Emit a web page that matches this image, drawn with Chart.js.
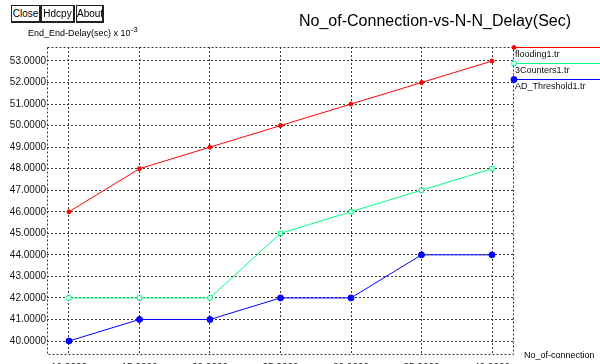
<!DOCTYPE html>
<html>
<head>
<meta charset="utf-8">
<script src="https://cdn.jsdelivr.net/npm/chart.js@4.4.0/dist/chart.umd.min.js"></script>
<style>
  body { margin: 0; background: #fff; }
  #wrap { position: relative; width: 600px; height: 364px; }
  .btn {
    position: absolute; top: 5px; height: 15px;
    border: 1px solid #222; border-right-width: 2px; border-bottom-width: 2px;
    font: 10px 'Liberation Sans', Arial, sans-serif; line-height: 15px;
    text-align: center; color: #000; background: #fff;
  }
</style>
</head>
<body>
<div id="wrap">
  <canvas id="delayChart" width="600" height="364"></canvas>
  <div class="btn" style="left:11px;width:27px">Close</div>
  <div class="btn" style="left:41px;width:31px">Hdcpy</div>
  <div class="btn" style="left:76px;width:25px">About</div>
</div>
<script>
// data dari grafik
const connections = [10, 15, 20, 25, 30, 35, 40];
const flooding = [46, 48, 49, 50, 51, 52, 53];
const counters = [42, 42, 42, 45, 46, 47, 48];
const adThreshold = [40, 41, 41, 42, 42, 44, 44];
const seriesNames = ['flooding1.tr', '3Counters1.tr', 'AD_Threshold1.tr'];
const seriesColors = ['#ff0000', '#00ff80', '#0000ff'];
const xTicks = [10, 15, 20, 25, 30, 35, 40];
const yTicks = [40, 41, 42, 43, 44, 45, 46, 47, 48, 49, 50, 51, 52, 53];

const chartTitle = 'No_of-Connection-vs-N-N_Delay(Sec)';
const yTitle = 'End_End-Delay(sec) x 10';
const yExp = '-3';
const xTitle = 'No_of-connection';

const sans = "'Liberation Sans', Arial, sans-serif";

function toPoints(vals) {
  return connections.map((c, i) => ({ x: c, y: vals[i] }));
}

// gambar frame, legenda, judul
const xgraphDecor = {
  id: 'xgraphDecor',
  afterDraw(chart) {
    const ctx = chart.ctx;
    const a = chart.chartArea;
    ctx.save();
    // frame titik-titik
    ctx.strokeStyle = '#333';
    ctx.lineWidth = 1;
    ctx.setLineDash([2, 2]);
    ctx.strokeRect(a.left + 0.5, a.top + 0.5, a.right - a.left - 1, a.bottom - a.top - 1);
    ctx.setLineDash([]);

    // judul
    ctx.fillStyle = '#000';
    ctx.textAlign = 'left';
    ctx.textBaseline = 'alphabetic';
    ctx.font = '16px ' + sans;
    ctx.fillText(chartTitle, 299, 26);

    ctx.font = '9px ' + sans;
    ctx.fillText(yTitle, 28, 36);
    const w = ctx.measureText(yTitle).width;
    ctx.font = '8px ' + sans;
    ctx.fillText(yExp, 28 + w, 32);

    ctx.font = '9px ' + sans;
    ctx.fillText(xTitle, 524, 358);

    // legenda di kanan
    chart.data.datasets.forEach((ds, i) => {
      const y = a.top + i * 16;
      ctx.fillStyle = '#111';
      ctx.font = '9px ' + sans;
      ctx.fillText(ds.label, a.right + 1, y + 10);
    });
    chart.data.datasets.forEach((ds, i) => {
      const y = a.top + i * 16;
      ctx.globalAlpha = 1;
      ctx.setLineDash([]);
      ctx.lineWidth = 1;
      ctx.strokeStyle = seriesColors[i];
      ctx.beginPath();
      ctx.moveTo(a.right, y + 0.5);
      ctx.lineTo(600, y + 0.5);
      ctx.stroke();
      ctx.fillStyle = ds.pointBackgroundColor;
      Chart.helpers.drawPoint(ctx, {
        pointStyle: ds.pointStyle, radius: ds.pointRadius,
        borderWidth: 1, rotation: 0
      }, a.right, y + 0.5);
    });
    ctx.restore();
  }
};

const ctx = document.getElementById('delayChart').getContext('2d');
const delayChart = new Chart(ctx, {
  type: 'line',
  data: {
    datasets: [{
      label: seriesNames[0],
      data: toPoints(flooding),
      borderColor: seriesColors[0],
      pointBackgroundColor: seriesColors[0],
      pointStyle: 'circle',
      pointRadius: 2
    }, {
      label: seriesNames[1],
      data: toPoints(counters),
      borderColor: seriesColors[1],
      pointBackgroundColor: '#ffffff',
      pointStyle: 'rect',
      pointRadius: 3
    }, {
      label: seriesNames[2],
      data: toPoints(adThreshold),
      borderColor: seriesColors[2],
      pointBackgroundColor: seriesColors[2],
      pointStyle: 'circle',
      pointRadius: 3
    }]
  },
  options: {
    responsive: false,
    animation: false,
    layout: { padding: { top: 47, right: 86, left: 0, bottom: 0 } },
    elements: {
      line: { borderWidth: 1, tension: 0, fill: false },
      point: { borderWidth: 1 }
    },
    plugins: { legend: { display: false }, tooltip: { enabled: false } },
    scales: {
      x: {
        type: 'linear',
        min: 8.44,
        max: 41.56,
        afterBuildTicks: (s) => { s.ticks = xTicks.map(v => ({ value: v })); },
        afterFit: (s) => { s.height = 9; },
        grid: { color: '#333', drawTicks: false },
        border: { display: false, dash: [2, 2] },
        ticks: {
          padding: 7,
          maxRotation: 0,
          color: '#111',
          font: { family: 'Liberation Sans', size: 10 },
          callback: (v) => Number(v).toFixed(4)
        }
      },
      y: {
        min: 39.35,
        max: 53.65,
        afterBuildTicks: (s) => { s.ticks = yTicks.map(v => ({ value: v })); },
        afterFit: (s) => { s.width = 47; },
        grid: { color: '#333', drawTicks: false },
        border: { display: false, dash: [2, 2] },
        ticks: {
          padding: 1,
          color: '#111',
          font: { family: 'Liberation Sans', size: 10 },
          callback: (v) => Number(v).toFixed(4)
        }
      }
    }
  },
  plugins: [xgraphDecor]
});
</script>
</body>
</html>
